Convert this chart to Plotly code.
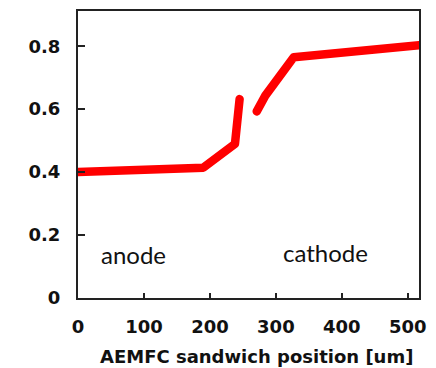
import plotly.graph_objects as go

# position along the AEMFC sandwich [um] and value (gap = None)
x_pos = [0, 190, 238, 245, None, 271, 284, 327, 517]
y_val = [0.40, 0.414, 0.49, 0.632, None, 0.593, 0.643, 0.765, 0.803]

x_ticks = [0, 100, 200, 300, 400, 500]
y_ticks = [0, 0.2, 0.4, 0.6, 0.8]
y_tick_text = ["0", "0.2", "0.4", "0.6", "0.8"]

labels = ["anode", "cathode"]
label_x = [84, 375]
label_y = [0.138, 0.145]

x_title = "AEMFC sandwich position [um]"

fig = go.Figure()
fig.add_trace(go.Scatter(x=x_pos, y=y_val, mode="lines", connectgaps=False,
                         line=dict(color="#ff0000", width=8.5), hoverinfo="skip"))

for t, xx, yy in zip(labels, label_x, label_y):
    fig.add_annotation(x=xx, y=yy, text=t, showarrow=False,
                       font=dict(family="Lato", size=24, color="#111"),
                       xanchor="center", yanchor="middle")

fig.add_annotation(xref="paper", yref="paper", x=0.523, y=-0.205, text=x_title,
                   showarrow=False, xanchor="center", yanchor="middle",
                   font=dict(family="DejaVu Sans", size=18, color="#111", weight="bold"))

axis_common = dict(showgrid=False, zeroline=False, showline=True, linecolor="#222",
                   linewidth=2, mirror=True, ticks="inside", tickcolor="#222",
                   tickwidth=1.5,
                   tickfont=dict(family="DejaVu Sans", size=18, color="#111", weight="bold"))

fig.update_xaxes(range=[0, 517], tickvals=x_ticks, ticklen=5,
                 ticklabelstandoff=11, **axis_common)
fig.update_yaxes(range=[0, 0.912], tickvals=y_ticks, ticktext=y_tick_text, ticklen=7,
                 ticklabelstandoff=12, **axis_common)

fig.update_layout(width=436, height=368, margin=dict(l=78, r=17, t=11, b=70, autoexpand=False),
                  paper_bgcolor="white", plot_bgcolor="white", showlegend=False)

post = """
document.body.style.margin='0px';
document.querySelectorAll('.scatterlayer path.js-line').forEach(function(p){
  p.style.strokeLinecap='round'; p.style.strokeLinejoin='round';
});
"""
fig.write_html("out.html", post_script=post, config={"displayModeBar": False})
